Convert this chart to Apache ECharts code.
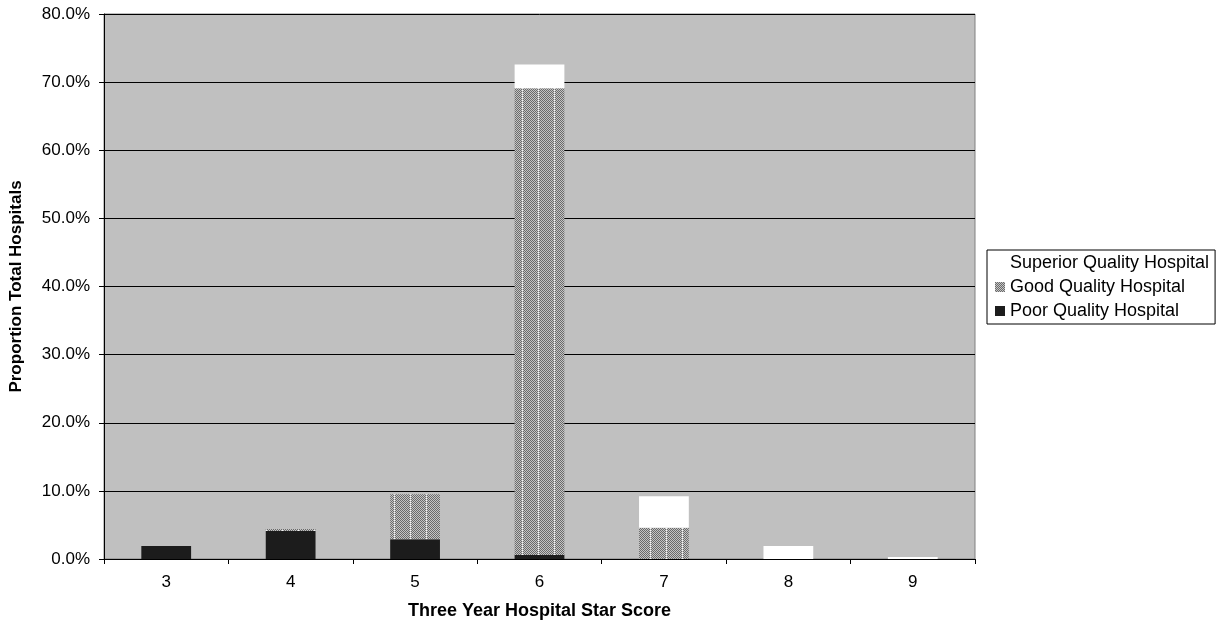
<!DOCTYPE html>
<html>
<head>
<meta charset="utf-8">
<script src="https://cdn.jsdelivr.net/npm/echarts@6/dist/echarts.min.js"></script>
<style>
  html, body { margin: 0; padding: 0; background: #ffffff; }
  #chart { width: 1219px; height: 625px; }
</style>
</head>
<body>
<div id="chart"></div>
<script>
// Three-year hospital star score distribution, stacked by quality group
const categories = ['3', '4', '5', '6', '7', '8', '9'];
const poorValues = [1.9, 4.1, 2.9, 0.6, 0, 0, 0];
const goodValues = [0, 0.3, 6.6, 68.5, 4.6, 0, 0];
const superiorValues = [0, 0, 0, 3.5, 4.6, 1.9, 0.3];

// Fine checkered fill for the middle group, with a faint light column every 16px
function checkerPattern() {
  const w = 16, h = 2;
  const c = document.createElement('canvas');
  c.width = w; c.height = h;
  const ctx = c.getContext('2d');
  for (let y = 0; y < h; y++) {
    for (let x = 0; x < w; x++) {
      let col = ((x + y) % 2 === 0) ? '#6a6a6a' : '#c4c4c4';
      if (x === 10 && y === 0) col = '#f4f4f4';
      ctx.fillStyle = col;
      ctx.fillRect(x, y, 1, 1);
    }
  }
  return { image: c, repeat: 'repeat' };
}

const font = 'Liberation Sans, Arial, sans-serif';
const chart = echarts.init(document.getElementById('chart'));

chart.setOption({
  animation: false,
  backgroundColor: '#ffffff',
  textStyle: { fontFamily: font },
  grid: {
    left: 103, right: 244, top: 14, bottom: 65,
    show: true, backgroundColor: '#c0c0c0', borderColor: '#808080', borderWidth: 1
  },
  legend: {
    orient: 'vertical',
    left: 987, top: 250,
    padding: [4, 6, 4, 8],
    itemGap: 6,
    itemWidth: 10, itemHeight: 10,
    borderColor: '#000000', borderWidth: 1,
    backgroundColor: '#ffffff',
    textStyle: { fontSize: 18, color: '#000', fontFamily: font },
    data: [
      { name: 'Superior Quality Hospital', icon: 'rect' },
      { name: 'Good Quality Hospital', icon: 'rect' },
      { name: 'Poor Quality Hospital', icon: 'rect' }
    ]
  },
  xAxis: {
    type: 'category',
    data: categories,
    name: 'Three Year Hospital Star Score',
    nameLocation: 'middle',
    nameGap: 43,
    nameTextStyle: { fontSize: 18, fontWeight: 'bold', color: '#000', fontFamily: font },
    axisLine: { lineStyle: { color: '#000', width: 1 } },
    axisTick: { show: true, length: 5, lineStyle: { color: '#000' } },
    axisLabel: { fontSize: 17, color: '#000', margin: 15, fontFamily: font }
  },
  yAxis: {
    type: 'value',
    min: 0, max: 80, interval: 10,
    name: 'Proportion Total Hospitals',
    nameLocation: 'middle',
    nameGap: 79,
    nameTextStyle: { fontSize: 17, fontWeight: 'bold', color: '#000', fontFamily: font },
    axisLine: { show: true, lineStyle: { color: '#000', width: 1 } },
    axisTick: { show: true, length: 5, lineStyle: { color: '#000' } },
    splitLine: { show: true, lineStyle: { color: '#000', width: 1 } },
    axisLabel: {
      fontSize: 17, color: '#000', margin: 14, fontFamily: font,
      formatter: v => v.toFixed(1) + '%'
    }
  },
  series: [
    {
      name: 'Poor Quality Hospital', type: 'bar', stack: 'q',
      barWidth: '40%',
      itemStyle: { color: '#1c1c1c' },
      data: poorValues
    },
    {
      name: 'Good Quality Hospital', type: 'bar', stack: 'q',
      barWidth: '40%',
      itemStyle: { color: checkerPattern() },
      data: goodValues
    },
    {
      name: 'Superior Quality Hospital', type: 'bar', stack: 'q',
      barWidth: '40%',
      itemStyle: { color: '#ffffff' },
      data: superiorValues
    }
  ]
});
</script>
</body>
</html>
